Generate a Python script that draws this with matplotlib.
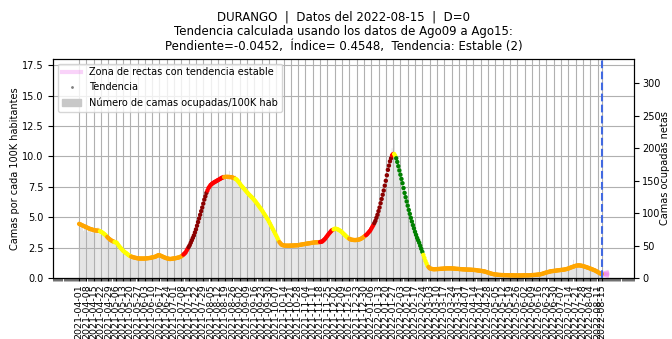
import numpy as np
import pandas as pd
import matplotlib
matplotlib.use("Agg")
import matplotlib.pyplot as plt
import matplotlib.dates as mdates
from matplotlib.lines import Line2D
from matplotlib.patches import Patch

estado = "DURANGO"
fecha_datos = "2022-08-15"
poblacion = 1874000
factor = poblacion / 100000.0

fechas = pd.date_range("2021-04-01", "2022-08-15", freq="D")

# camas ocupadas netas por dia
camas = [
    84, 78, 86, 80, 73, 82, 76, 79, 71, 80,
    75, 79, 70, 77, 74, 68, 76, 72, 78, 69,
    74, 66, 71, 65, 70, 62, 67, 58, 64, 57,
    60, 54, 59, 53, 58, 55, 50, 54, 46, 50,
    44, 48, 40, 43, 37, 41, 35, 38, 33, 36,
    31, 34, 30, 33, 29, 32, 30, 28, 32, 29,
    31, 28, 32, 29, 30, 33, 28, 31, 30, 32,
    30, 34, 32, 35, 31, 36, 33, 37, 32, 35,
    31, 34, 30, 32, 29, 31, 28, 30, 27, 31,
    29, 32, 30, 31, 33, 30, 34, 31, 35, 33,
    38, 36, 41, 40, 47, 46, 53, 52, 60, 61,
    68, 70, 78, 78, 88, 90, 99, 101, 112, 113,
    124, 123, 134, 133, 141, 138, 146, 142, 149, 145,
    151, 146, 153, 150, 156, 149, 158, 152, 160, 154,
    163, 151, 159, 155, 165, 150, 158, 160, 152, 157,
    158, 148, 154, 146, 150, 139, 145, 135, 141, 132,
    138, 129, 134, 125, 131, 121, 128, 118, 124, 115,
    119, 110, 115, 106, 111, 100, 106, 96, 101, 92,
    95, 87, 91, 80, 85, 73, 78, 67, 72, 62,
    65, 57, 58, 51, 54, 49, 53, 48, 52, 49,
    52, 47, 53, 48, 51, 49, 53, 47, 52, 50,
    53, 49, 54, 50, 53, 49, 55, 51, 54, 52,
    56, 51, 55, 52, 57, 53, 56, 52, 58, 54,
    56, 54, 58, 55, 60, 58, 64, 62, 68, 66,
    72, 70, 75, 72, 78, 74, 79, 73, 77, 72,
    75, 70, 73, 66, 70, 64, 67, 60, 63, 58,
    62, 57, 61, 56, 60, 57, 62, 56, 61, 58,
    63, 59, 65, 61, 67, 64, 70, 67, 74, 71,
    80, 77, 85, 83, 92, 90, 101, 99, 112, 111,
    126, 124, 140, 137, 155, 152, 172, 168, 185, 180,
    200, 186, 213, 180, 190, 172, 178, 160, 165, 148,
    152, 134, 136, 121, 123, 109, 110, 96, 98, 84,
    85, 73, 75, 63, 65, 55, 57, 47, 48, 38,
    38, 29, 28, 21, 20, 16, 16, 13, 15, 12,
    14, 12, 15, 13, 15, 12, 16, 13, 15, 14,
    16, 13, 15, 14, 17, 13, 16, 14, 15, 13,
    15, 13, 14, 12, 15, 13, 14, 12, 14, 13,
    14, 12, 13, 12, 14, 12, 13, 11, 13, 12,
    13, 11, 12, 10, 12, 10, 11, 10, 11, 9,
    10, 9, 9, 7, 8, 6, 7, 6, 6, 5,
    6, 5, 5, 4, 5, 4, 5, 4, 5, 4,
    4, 5, 4, 4, 5, 3, 4, 4, 5, 3,
    4, 4, 5, 3, 4, 4, 5, 4, 4, 3,
    4, 5, 4, 5, 4, 5, 5, 4, 5, 6,
    5, 6, 6, 6, 7, 7, 8, 8, 9, 9,
    10, 9, 11, 10, 11, 11, 12, 11, 12, 12,
    12, 13, 12, 13, 13, 14, 13, 14, 14, 15,
    15, 17, 16, 18, 28, 19, 19, 21, 20, 20,
    20, 19, 19, 18, 18, 17, 17, 16, 16, 15,
    15, 14, 13, 13, 12, 11, 10, 9, 8, 8,
    7, 6,
]

# tendencia (camas por cada 100K hab)
tendencia = [
    4.45, 4.41, 4.37, 4.33, 4.29, 4.25, 4.21, 4.17, 4.13, 4.09,
    4.05, 4.02, 4.0, 3.97, 3.94, 3.92, 3.91, 3.9, 3.89, 3.88,
    3.85, 3.8, 3.75, 3.69, 3.62, 3.55, 3.46, 3.37, 3.28, 3.2,
    3.14, 3.08, 3.03, 3.0, 2.96, 2.93, 2.9, 2.78, 2.66, 2.55,
    2.45, 2.35, 2.25, 2.18, 2.11, 2.05, 1.98, 1.91, 1.85, 1.8,
    1.76, 1.73, 1.7, 1.68, 1.66, 1.64, 1.62, 1.61, 1.6, 1.6,
    1.6, 1.6, 1.6, 1.6, 1.61, 1.62, 1.63, 1.64, 1.65, 1.67,
    1.69, 1.71, 1.73, 1.75, 1.79, 1.84, 1.88, 1.87, 1.84, 1.8,
    1.76, 1.72, 1.68, 1.65, 1.62, 1.6, 1.58, 1.56, 1.57, 1.58,
    1.6, 1.61, 1.62, 1.64, 1.66, 1.68, 1.7, 1.74, 1.79, 1.85,
    1.93, 2.01, 2.1, 2.25, 2.4, 2.55, 2.7, 2.9, 3.1, 3.3,
    3.5, 3.75, 4.0, 4.3, 4.6, 4.9, 5.2, 5.5, 5.8, 6.12,
    6.45, 6.72, 7.0, 7.2, 7.4, 7.52, 7.65, 7.72, 7.8, 7.85,
    7.9, 7.95, 8.0, 8.05, 8.1, 8.15, 8.2, 8.25, 8.28, 8.3,
    8.32, 8.32, 8.32, 8.32, 8.31, 8.3, 8.3, 8.27, 8.24, 8.2,
    8.15, 8.1, 8.0, 7.9, 7.78, 7.65, 7.55, 7.45, 7.35, 7.25,
    7.15, 7.05, 6.95, 6.85, 6.77, 6.68, 6.6, 6.5, 6.4, 6.3,
    6.18, 6.07, 5.95, 5.83, 5.72, 5.6, 5.47, 5.33, 5.2, 5.07,
    4.93, 4.8, 4.63, 4.47, 4.3, 4.13, 3.97, 3.8, 3.63, 3.47,
    3.3, 3.12, 2.95, 2.85, 2.75, 2.71, 2.68, 2.67, 2.66, 2.66,
    2.66, 2.66, 2.66, 2.67, 2.67, 2.67, 2.68, 2.68, 2.69, 2.69,
    2.7, 2.72, 2.73, 2.75, 2.76, 2.78, 2.79, 2.81, 2.82, 2.84,
    2.85, 2.86, 2.88, 2.89, 2.9, 2.92, 2.93, 2.93, 2.94, 2.94,
    2.95, 2.96, 2.98, 3.0, 3.08, 3.16, 3.25, 3.37, 3.48, 3.6,
    3.7, 3.8, 3.9, 3.95, 4.0, 4.05, 4.05, 4.03, 4.0, 3.95,
    3.9, 3.85, 3.77, 3.68, 3.6, 3.52, 3.43, 3.35, 3.29, 3.23,
    3.18, 3.16, 3.14, 3.13, 3.12, 3.12, 3.13, 3.14, 3.16, 3.18,
    3.22, 3.27, 3.33, 3.39, 3.46, 3.53, 3.6, 3.7, 3.8, 3.9,
    4.05, 4.2, 4.35, 4.52, 4.7, 4.95, 5.2, 5.5, 5.8, 6.15,
    6.5, 6.85, 7.2, 7.6, 8.0, 8.45, 8.9, 9.25, 9.6, 9.85,
    10.1, 10.2, 10.2, 10.05, 9.85, 9.55, 9.2, 8.85, 8.5, 8.15,
    7.8, 7.4, 7.0, 6.65, 6.3, 5.95, 5.6, 5.28, 4.95, 4.65,
    4.35, 4.08, 3.8, 3.55, 3.3, 3.1, 2.9, 2.65, 2.4, 2.15,
    1.9, 1.65, 1.4, 1.2, 1.0, 0.9, 0.8, 0.77, 0.75, 0.73,
    0.72, 0.72, 0.73, 0.73, 0.74, 0.74, 0.75, 0.76, 0.76, 0.77,
    0.78, 0.78, 0.79, 0.79, 0.79, 0.79, 0.79, 0.79, 0.78, 0.78,
    0.77, 0.76, 0.75, 0.75, 0.74, 0.73, 0.73, 0.72, 0.71, 0.71,
    0.7, 0.7, 0.69, 0.69, 0.69, 0.68, 0.68, 0.67, 0.66, 0.66,
    0.65, 0.64, 0.62, 0.61, 0.6, 0.59, 0.58, 0.56, 0.55, 0.53,
    0.5, 0.47, 0.45, 0.42, 0.39, 0.36, 0.34, 0.32, 0.3, 0.29,
    0.28, 0.27, 0.26, 0.25, 0.25, 0.24, 0.24, 0.24, 0.23, 0.23,
    0.23, 0.23, 0.22, 0.22, 0.22, 0.22, 0.22, 0.21, 0.21, 0.21,
    0.21, 0.21, 0.21, 0.21, 0.21, 0.21, 0.22, 0.22, 0.22, 0.22,
    0.22, 0.22, 0.23, 0.23, 0.24, 0.24, 0.25, 0.25, 0.26, 0.27,
    0.28, 0.29, 0.3, 0.32, 0.34, 0.37, 0.4, 0.43, 0.45, 0.48,
    0.5, 0.52, 0.55, 0.56, 0.57, 0.58, 0.59, 0.6, 0.62, 0.63,
    0.64, 0.65, 0.66, 0.67, 0.68, 0.69, 0.71, 0.73, 0.75, 0.78,
    0.81, 0.85, 0.88, 0.91, 0.94, 0.97, 1.0, 1.02, 1.03, 1.04,
    1.03, 1.02, 1.0, 0.98, 0.95, 0.93, 0.9, 0.87, 0.84, 0.81,
    0.78, 0.74, 0.71, 0.67, 0.64, 0.6, 0.55, 0.5, 0.45, 0.4,
    0.36, 0.33,
]

# tramos de tendencia: (primer dia, ultimo dia, color)
tramos = [
    (0, 19, "orange"), (20, 26, "yellow"), (27, 33, "orange"),
    (34, 49, "yellow"), (50, 99, "orange"), (100, 104, "red"),
    (105, 122, "darkred"), (123, 138, "red"), (139, 149, "orange"),
    (150, 191, "yellow"), (192, 230, "orange"), (231, 243, "red"),
    (244, 258, "yellow"), (259, 274, "orange"), (275, 282, "red"),
    (283, 299, "darkred"), (300, 301, "red"), (302, 303, "yellow"),
    (304, 329, "green"), (330, 334, "yellow"), (335, 501, "orange"),
]

# rectas con tendencia estable proyectadas desde el ultimo dato
dias_proyeccion = 7
valores_proyeccion = [0.12, 0.2, 0.28, 0.36, 0.44, 0.52]

camas = np.array(camas, dtype=float)
tasa = camas / factor
tendencia = np.array(tendencia)
colores = [""] * len(fechas)
for ini, fin, c in tramos:
    for i in range(ini, fin + 1):
        colores[i] = c

plt.rcParams['font.size'] = 7
plt.rcParams['xtick.major.size'] = 2.5
plt.rcParams['xtick.major.pad'] = 2
plt.rcParams['xtick.minor.size'] = 2
plt.rcParams['xtick.minor.width'] = 0.4

fig = plt.figure(figsize=(6.72, 3.39), dpi=100)
plt.subplots_adjust(left=0.079, right=0.9435, top=0.827, bottom=0.18)
ax = fig.add_subplot(111)

ax.bar(fechas, tasa, width=0.5, color="#cccccc", snap=False, zorder=1)
ax.scatter(fechas, tendencia, c=colores, s=10, linewidths=0, zorder=3)

ultima = fechas[-1]
fin_proy = ultima + pd.Timedelta(days=dias_proyeccion)
for v in valores_proyeccion:
    ax.plot([ultima, fin_proy], [tendencia[-1], v], color="violet",
            alpha=0.35, lw=3, zorder=2, solid_capstyle="butt")

ax.axvline(ultima, color="royalblue", ls="--", lw=1.5, zorder=4)

ax.set_xlim(pd.Timestamp("2021-03-07"), pd.Timestamp("2022-09-15"))
ax.set_ylim(0, 18.05)
ax.set_yticks(np.arange(0, 17.6, 2.5))

ticks = list(fechas[::7]) + [ultima]
ax.set_xticks(ticks)
ax.xaxis.set_major_formatter(mdates.DateFormatter("%Y-%m-%d"))
ax.xaxis.set_minor_locator(mdates.DayLocator())
plt.setp(ax.get_xticklabels(), rotation=90, fontsize=6.8)
ax.grid(True, which="major", color="#b0b0b0", lw=0.8)
ax.set_ylabel("Camas por cada 100K habitantes", labelpad=1)

ax2 = ax.twinx()
ax2.set_ylim(0, 18.05 * factor)
ax2.set_yticks(np.arange(0, 301, 50))
ax2.tick_params(axis="y", pad=2.5)
ax2.set_ylabel("Camas ocupadas netas", labelpad=-1)

manijas = [
    Line2D([], [], color="violet", alpha=0.35, lw=3),
    Line2D([], [], ls="", marker=".", ms=2, color="gray"),
    Patch(color="#c8c8c8"),
]
ax.legend(manijas, ["Zona de rectas con tendencia estable", "Tendencia",
                    "Número de camas ocupadas/100K hab"],
          loc="upper left", fontsize=7)

ax.set_title(f"{estado}  |  Datos del {fecha_datos}  |  D=0\n"
             "Tendencia calculada usando los datos de Ago09 a Ago15:\n"
             "Pendiente=-0.0452,  Índice= 0.4548,  Tendencia: Estable (2)",
             fontsize=8.5)

fig.savefig("out.png", dpi=100)
